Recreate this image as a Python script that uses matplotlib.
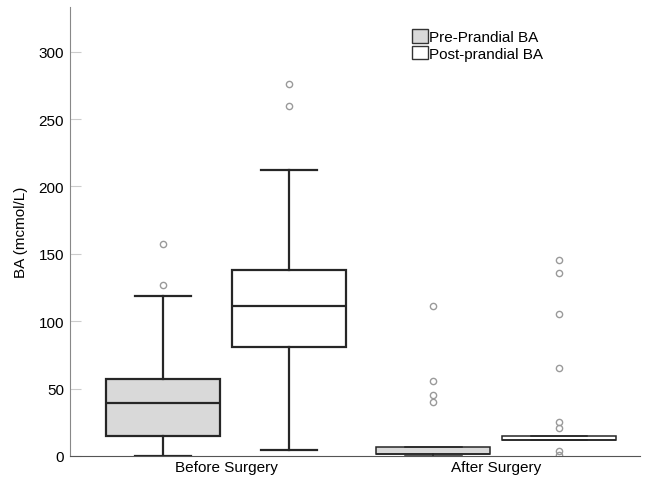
import matplotlib
matplotlib.use("Agg")
import matplotlib.pyplot as plt
from matplotlib.patches import Patch

plt.rcParams['font.family'] = ['Liberation Sans', 'DejaVu Sans']

groups = ["Before Surgery", "After Surgery"]
series = ["Pre-Prandial BA", "Post-prandial BA"]
# stats per box: (whislo, q1, med, q3, whishi, fliers)
pre_before = dict(whislo=0, q1=15, med=39, q3=57, whishi=119, fliers=[127, 157])
post_before = dict(whislo=4.5, q1=81, med=111, q3=138, whishi=212, fliers=[260, 276])
pre_after = dict(whislo=0, q1=1.5, med=1.5, q3=7, whishi=7, fliers=[40, 45, 55.5, 111])
post_after = dict(whislo=12, q1=12, med=12, q3=15, whishi=15,
                  fliers=[1, 3.7, 21, 25.5, 65.5, 105.5, 136, 145.5])

fills = ["#d9d9d9", "#ffffff"]
offset = 0.233
width = 0.42

fig = plt.figure(figsize=(6.46, 4.81), dpi=100)
ax = fig.add_axes([0.108, 0.05, 0.883, 0.933])

data = [[pre_before, post_before], [pre_after, post_after]]
for gi, pair in enumerate(data):
    lw = 1.6 if gi == 0 else 1.1
    for si, st in enumerate(pair):
        pos = gi + 1 + (-offset if si == 0 else offset)
        ax.bxp([dict(st)], positions=[pos], widths=width, patch_artist=True,
               boxprops=dict(facecolor=fills[si], edgecolor="#262626", linewidth=lw),
               medianprops=dict(color="#262626", linewidth=lw),
               whiskerprops=dict(color="#262626", linewidth=lw),
               capprops=dict(color="#262626", linewidth=lw),
               flierprops=dict(marker="o", markersize=4.5, markerfacecolor="none",
                               markeredgecolor="#9a9a9a", markeredgewidth=1.0),
               manage_ticks=False)

ax.set_xlim(0.422, 2.533)
ax.set_ylim(0, 333)
ax.set_yticks([0, 50, 100, 150, 200, 250, 300])
ax.set_xticks([1, 2])
ax.set_xticklabels(groups, fontsize=11)
ax.set_ylabel("BA (mcmol/L)", fontsize=11, labelpad=8)
ax.tick_params(axis='y', direction='in', length=8, color="#cccccc", labelsize=11, pad=4)
ax.tick_params(axis='x', length=0, labelsize=11, pad=3)
for s in ["top", "right"]:
    ax.spines[s].set_visible(False)
ax.spines["left"].set_color("#888888")
ax.spines["bottom"].set_color("#555555")

handles = [Patch(facecolor=fills[0], edgecolor="#333333"),
           Patch(facecolor=fills[1], edgecolor="#333333")]
ax.legend(handles, series, loc="upper left", bbox_to_anchor=(0.59, 0.965), frameon=False,
          fontsize=11, handlelength=1.0, handleheight=1.0, handletextpad=0.1,
          labelspacing=0.1, borderaxespad=0)

fig.savefig("out.png", dpi=100)
